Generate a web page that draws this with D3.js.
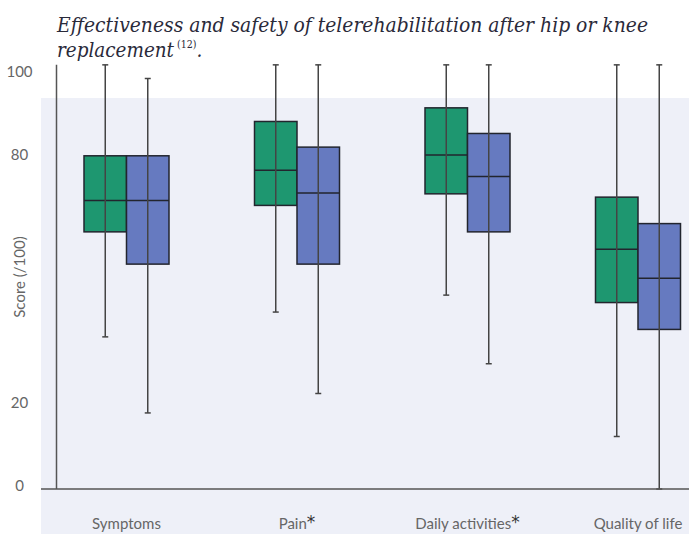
<!DOCTYPE html>
<html>
<head>
<meta charset="utf-8">
<script src="https://cdn.jsdelivr.net/npm/d3@7"></script>
<style>
body { margin: 0; background: #fff; }
</style>
</head>
<body>
<div id="chart"></div>
<script>
// box plot: telerehabilitation (green) vs usual care (blue)

var categories = ["Symptoms", "Pain", "Daily activities", "Quality of life"],
    starred = [false, true, true, false],
    groups = ["tele", "usual"];

var teleMin = [36.8, 42.8, 46.9, 12.7],
    teleQ1  = [62.2, 68.6, 71.4, 45.1],
    teleMed = [69.8, 77.1, 80.8, 58.0],
    teleQ3  = [80.6, 88.9, 92.2, 70.6],
    teleMax = [102.6, 102.6, 102.6, 102.6];

var usualMin = [18.4, 23.1, 30.3, 0],
    usualQ1  = [54.4, 54.4, 62.2, 38.6],
    usualMed = [69.8, 71.6, 75.6, 51.0],
    usualQ3  = [80.6, 82.7, 86.0, 64.2],
    usualMax = [99.3, 102.6, 102.6, 102.6];

var yTicks = [0, 20, 80, 100];
var axisTop = 102.6;

var colors = {tele: "#1e9770", usual: "#667ac0"};

var width = 689, height = 534;
var plot = {left: 41, top: 98, right: 689, bottom: 534};

var svg = d3.select("#chart").append("svg")
    .attr("width", width)
    .attr("height", height);

// plot background
svg.append("rect")
    .attr("x", plot.left)
    .attr("y", plot.top)
    .attr("width", plot.right - plot.left)
    .attr("height", plot.bottom - plot.top)
    .attr("fill", "#eef0f8");

var y = d3.scaleLinear().domain([0, 100]).range([489, 75.6]);
var x = d3.scalePoint().domain(categories).range([126.5, 638]);
var xSub = d3.scaleBand().domain(groups).range([-42.5, 42.5]).padding(0);

// build rows from the arrays
var rows = [];
categories.forEach(function(c, i) {
    rows.push({cat: c, g: "tele", min: teleMin[i], q1: teleQ1[i], med: teleMed[i], q3: teleQ3[i], max: teleMax[i]});
    rows.push({cat: c, g: "usual", min: usualMin[i], q1: usualQ1[i], med: usualMed[i], q3: usualQ3[i], max: usualMax[i]});
});

// y tick labels
var yAxis = svg.append("g")
    .call(d3.axisLeft(y).tickValues(yTicks).tickSize(0).tickFormat(d3.format("d")));
yAxis.select(".domain").remove();
yAxis.selectAll("text")
    .attr("x", 19.5)
    .attr("y", -3.5)
    .attr("text-anchor", "middle")
    .attr("fill", "#666")
    .attr("font-family", "Lato, 'Open Sans', sans-serif")
    .attr("font-size", 15);

// y axis line
svg.append("line")
    .attr("x1", 56.5).attr("x2", 56.5)
    .attr("y1", y(axisTop)).attr("y2", y(0))
    .attr("stroke", "#555")
    .attr("stroke-width", 1.5);

svg.append("text")
    .attr("transform", "translate(25," + 277 + ") rotate(-90)")
    .attr("text-anchor", "middle")
    .attr("fill", "#666")
    .attr("font-family", "Lato, 'Open Sans', sans-serif")
    .attr("font-size", 15)
    .text("Score (/100)");

var box = svg.selectAll(".box")
    .data(rows)
    .enter()
    .append("g")
    .attr("class", "box")
    .attr("transform", function(d) { return "translate(" + (x(d.cat) + xSub(d.g)) + ",0)"; });

var bw = xSub.bandwidth();

box.append("rect")
    .attr("x", 0)
    .attr("width", bw)
    .attr("y", function(d) { return y(d.q3); })
    .attr("height", function(d) { return y(d.q1) - y(d.q3); })
    .attr("fill", function(d) { return colors[d.g]; })
    .attr("stroke", "#22252e")
    .attr("stroke-width", 1.5);

box.append("line")
    .attr("x1", 0).attr("x2", bw)
    .attr("y1", function(d) { return y(d.med); })
    .attr("y2", function(d) { return y(d.med); })
    .attr("stroke", "#22252e")
    .attr("stroke-width", 1.5);

// whiskers
box.append("line")
    .attr("x1", bw / 2).attr("x2", bw / 2)
    .attr("y1", function(d) { return y(d.max); })
    .attr("y2", function(d) { return y(d.min); })
    .attr("stroke", "#444")
    .attr("stroke-width", 1.5);

box.selectAll(".cap")
    .data(function(d) { return [d.min, d.max]; })
    .enter()
    .append("line")
    .attr("class", "cap")
    .attr("x1", bw / 2 - 3).attr("x2", bw / 2 + 3)
    .attr("y1", function(v) { return y(v); })
    .attr("y2", function(v) { return y(v); })
    .attr("stroke", "#444")
    .attr("stroke-width", 1.5);

// baseline
svg.append("line")
    .attr("x1", plot.left).attr("x2", plot.right)
    .attr("y1", y(0)).attr("y2", y(0))
    .attr("stroke", "#555")
    .attr("stroke-width", 1.5);

// category labels
var lab = svg.selectAll(".cat")
    .data(categories)
    .enter()
    .append("text")
    .attr("class", "cat")
    .attr("x", function(d) { return x(d); })
    .attr("y", 529)
    .attr("text-anchor", "middle")
    .attr("fill", "#666")
    .attr("font-family", "Lato, 'Open Sans', sans-serif")
    .attr("font-size", 15);
lab.append("tspan").text(function(d) { return d; });
lab.filter(function(d, i) { return starred[i]; })
    .append("tspan")
    .attr("fill", "#333")
    .attr("font-family", "'DejaVu Sans', sans-serif")
    .attr("font-size", 17)
    .attr("dy", -1)
    .text("*");

// title
var title = svg.append("g")
    .attr("font-family", "'DejaVu Serif Condensed', 'DejaVu Serif', serif")
    .attr("font-style", "italic")
    .attr("fill", "#2a2a3a")
    .attr("font-size", 20.5);

title.append("text")
    .attr("x", 57)
    .attr("y", 32)
    .attr("textLength", 591)
    .attr("lengthAdjust", "spacingAndGlyphs")
    .text("Effectiveness and safety of telerehabilitation after hip or knee");

var t2 = title.append("text")
    .attr("x", 57)
    .attr("y", 57);
t2.append("tspan")
    .attr("textLength", 117)
    .attr("lengthAdjust", "spacingAndGlyphs")
    .text("replacement");
t2.append("tspan")
    .attr("font-size", 10.5)
    .attr("font-style", "normal")
    .attr("dx", 3)
    .attr("dy", -9)
    .text("(12)");
t2.append("tspan")
    .attr("dy", 9)
    .text(".");
</script>
</body>
</html>
